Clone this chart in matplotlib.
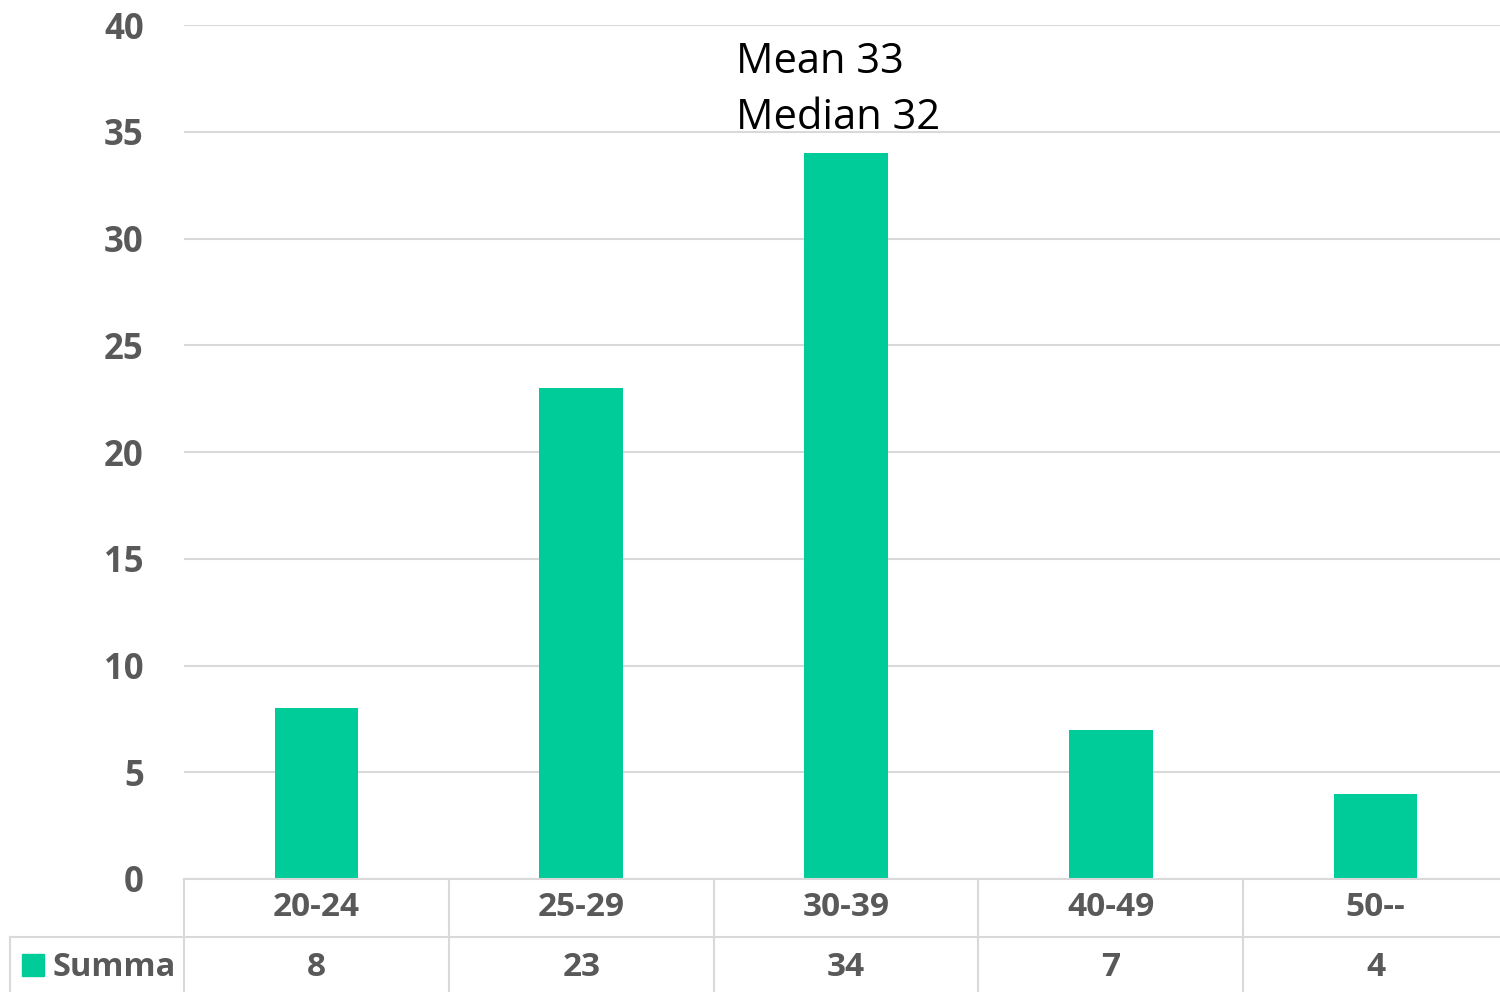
import matplotlib
matplotlib.use("Agg")
import matplotlib.pyplot as plt
import matplotlib.transforms as mtransforms

# Données
categories = ["20-24", "25-29", "30-39", "40-49", "50--"]
summa = [8, 23, 34, 7, 4]
yticks = [0, 5, 10, 15, 20, 25, 30, 35, 40]
serie = "Summa"
note = "Mean 33\nMedian 32"

couleur_barre = "#00CC99"
couleur_texte = "#595959"
couleur_grille = "#D9D9D9"

plt.rcParams["font.family"] = ["Open Sans", "DejaVu Sans"]

W, H = 1500, 992
fig = plt.figure(figsize=(15, 9.92), dpi=100)
ax = fig.add_axes([184 / W, 1 - 879 / H, (1508 - 184) / W, (879 - 25) / H])

x = list(range(len(categories)))
ax.bar(x, summa, width=0.315, color=couleur_barre, zorder=3)
ax.set_xlim(-0.5, len(categories) - 0.5)
ax.set_ylim(0, 40)
ax.set_yticks(yticks)
ax.set_yticklabels([str(t) for t in yticks], fontsize=25, fontweight="bold", color=couleur_texte)
ax.tick_params(axis="y", length=0, pad=29)
ax.set_xticks([])
ax.grid(axis="y", color=couleur_grille, linewidth=1.5, zorder=0)
for s in ax.spines.values():
    s.set_visible(False)

# Annotation
ax.text(1.585, 39.25, note, fontsize=30, color="black", va="top", ha="left", linespacing=1.45)

# Tableau de données sous le graphique
trans = mtransforms.blended_transform_factory(ax.transData, fig.transFigure)
ytop = 1 - 879 / H
ymid = 1 - 937 / H
ybas = 0.0
fig.add_artist(plt.Line2D([184 / W, 1], [ytop, ytop], color=couleur_grille, lw=1.5))
fig.add_artist(plt.Line2D([10 / W, 1], [ymid, ymid], color=couleur_grille, lw=1.5))
fig.add_artist(plt.Line2D([184 / W, 184 / W], [ybas, ytop], color=couleur_grille, lw=1.5))
fig.add_artist(plt.Line2D([10 / W, 10 / W], [ybas, ymid], color=couleur_grille, lw=1.5))
for i in range(1, len(categories)):
    fig.add_artist(plt.Line2D([i - 0.5, i - 0.5], [ybas, ytop], color=couleur_grille, lw=1.5,
                              transform=trans))

for i, (c, v) in enumerate(zip(categories, summa)):
    ax.text(i, (ytop + ymid) / 2, c, transform=trans, ha="center", va="center",
            fontsize=24, fontweight="bold", color=couleur_texte)
    ax.text(i, (ymid + ybas) / 2 - 0.003, str(v), transform=trans, ha="center", va="center",
            fontsize=24, fontweight="bold", color=couleur_texte)

fig.add_artist(plt.Rectangle((22 / W, 1 - 976 / H), 22 / W, 22 / H, color=couleur_barre,
                             transform=fig.transFigure))
fig.text(53 / W, (ymid + ybas) / 2 - 0.003, serie, ha="left", va="center",
         fontsize=23.5, fontweight="bold", color=couleur_texte)

fig.savefig("out.png", dpi=100)
